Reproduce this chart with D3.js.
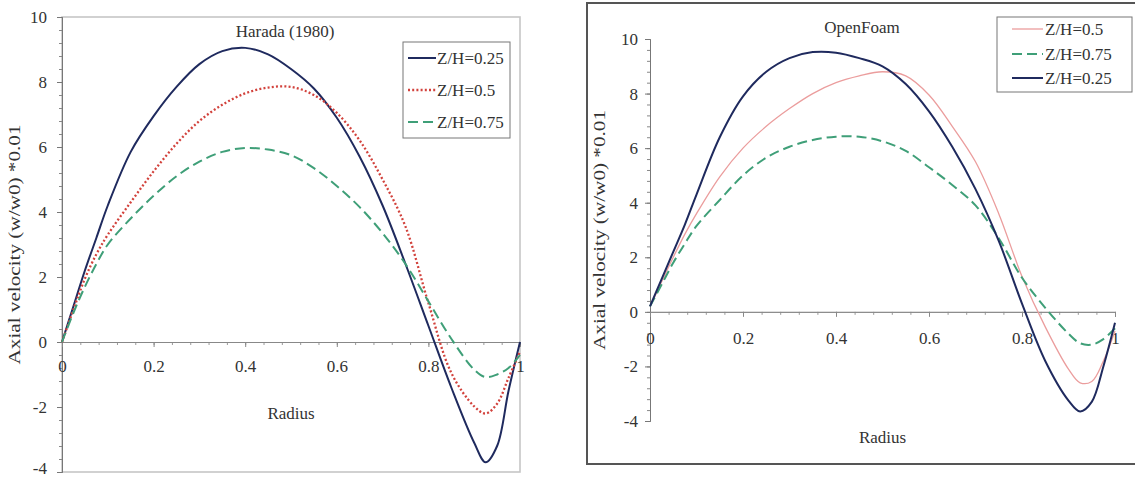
<!DOCTYPE html>
<html>
<head>
<meta charset="utf-8">
<script src="https://cdn.jsdelivr.net/npm/d3@7"></script>
<style>
  body { margin: 0; background: #fff; }
  svg { display: block; }
  svg text { font-family: "Liberation Serif", "Times New Roman", serif; }
</style>
</head>
<body>
<div id="chart"></div>
<script>
// radius positions, shared by both panels
var radius = [0, 0.025, 0.05, 0.075, 0.1, 0.15, 0.2, 0.25, 0.3, 0.35, 0.4, 0.45, 0.5,
  0.55, 0.6, 0.65, 0.7, 0.75, 0.8, 0.85, 0.9, 0.925, 0.95, 0.975, 1];

// Harada (1980) -- axial velocity (w/w0)*0.01
var harada025 = [0, 1.1, 2.2, 3.2, 4.2, 5.85, 6.95, 7.85, 8.55, 8.95, 9.05, 8.85, 8.4,
  7.8, 6.9, 5.7, 4.2, 2.4, 0.5, -1.4, -3.1, -3.7, -3.2, -1.5, 0];
var harada05 = [0, 1.0, 1.95, 2.7, 3.3, 4.3, 5.25, 6.1, 6.8, 7.3, 7.65, 7.83, 7.85,
  7.6, 7.05, 6.2, 5.0, 3.55, 1.2, -0.95, -1.98, -2.2, -1.9, -1.1, -0.3];
var harada075 = [0, 0.9, 1.7, 2.4, 3.0, 3.8, 4.5, 5.1, 5.55, 5.85, 5.97, 5.92, 5.75,
  5.35, 4.8, 4.15, 3.35, 2.4, 1.25, 0.1, -0.85, -1.08, -1.0, -0.8, -0.4];

// OpenFoam
var foam05 = [0.2, 1.1, 2.0, 2.85, 3.6, 4.95, 6.0, 6.8, 7.45, 8.0, 8.4, 8.65, 8.8,
  8.65, 7.95, 6.8, 5.5, 3.6, 1.3, -0.55, -2.1, -2.6, -2.55, -1.8, -0.7];
var foam075 = [0.2, 1.0, 1.8, 2.5, 3.15, 4.1, 5.0, 5.65, 6.05, 6.3, 6.42, 6.42, 6.25,
  5.9, 5.3, 4.65, 3.9, 2.7, 1.25, 0.15, -0.8, -1.15, -1.2, -1.0, -0.6];
var foam025 = [0.2, 1.2, 2.2, 3.2, 4.3, 6.4, 7.9, 8.8, 9.3, 9.52, 9.5, 9.3, 9.0,
  8.35, 7.35, 6.05, 4.5, 2.6, 0.3, -1.8, -3.25, -3.65, -3.3, -2.0, -0.4];

var xTicks = [0, 0.2, 0.4, 0.6, 0.8, 1];
var xTickLabels = ["0", "0.2", "0.4", "0.6", "0.8", "1"];
var yTicks = [-4, -2, 0, 2, 4, 6, 8, 10];
var yTickLabels = ["-4", "-2", "0", "2", "4", "6", "8", "10"];
var yTitle = "Axial velocity  (w/w0) *0.01";
var xTitle = "Radius";

var styles = {
  s025: { color: "#1f2a5e", dash: null, width: 2 },
  s05: { color: "#d2423c", dash: "2,2.2", width: 2.3 },
  s05foam: { color: "#eb9d9d", dash: null, width: 1.3 },
  s075: { color: "#3f9f78", dash: "10,5", width: 2 }
};

var W = 1135, H = 478;
var svg = d3.select("#chart").append("svg").attr("width", W).attr("height", H);

function styleAxis(g, col) {
  g.attr("font-size", 17);
  g.select(".domain").attr("stroke", col);
  g.selectAll(".tick line").attr("stroke", col);
  g.selectAll(".tick text").attr("fill", "#333");
}

function drawPanel(p) {
  var x = d3.scaleLinear().domain([0, 1]).range(p.xr);
  var y = d3.scaleLinear().domain([-4, 10]).range(p.yr);
  var g = svg.append("g");

  if (p.frame) {
    g.append("rect")
      .attr("x", p.xr[0]).attr("y", p.yr[1])
      .attr("width", p.xr[1] - p.xr[0]).attr("height", p.yr[0] - p.yr[1])
      .attr("fill", "none").attr("stroke", "#c6c6c6").attr("stroke-width", 1.6);
  }

  var minorX = d3.range(0, 1.0001, 0.04);
  var minorY = d3.range(-4, 10.0001, 0.4);

  // y axis
  g.append("g").attr("transform", "translate(" + p.xr[0] + ",0)")
    .call(d3.axisLeft(y).tickValues(minorY).tickSize(3).tickFormat(""))
    .call(styleAxis, "#888");
  var ya = g.append("g").attr("transform", "translate(" + p.xr[0] + ",0)")
    .call(d3.axisLeft(y).tickValues(yTicks).tickSize(5).tickPadding(p.yPad)
      .tickFormat(function (d, i) { return yTickLabels[i]; }))
    .call(styleAxis, "#777");
  // keep the lowest label inside the picture
  ya.selectAll(".tick text").filter(function (d) { return y(d) > H - 8; })
    .attr("dy", "0.1em");

  // x axis through zero
  g.append("g").attr("transform", "translate(0," + y(0) + ")")
    .call(d3.axisBottom(x).tickValues(minorX).tickSize(3).tickFormat(""))
    .call(styleAxis, "#999");
  g.append("g").attr("transform", "translate(0," + y(0) + ")")
    .call(d3.axisBottom(x).tickValues(xTicks).tickSize(5).tickPadding(p.xPad)
      .tickFormat(function (d, i) { return xTickLabels[i]; }))
    .call(styleAxis, "#888");

  var line = d3.line()
    .x(function (d) { return x(d[0]); })
    .y(function (d) { return y(d[1]); })
    .curve(d3.curveCatmullRom.alpha(0.5));

  p.series.forEach(function (s) {
    var pts = radius.map(function (r, i) { return [r, s.values[i]]; });
    g.append("path").datum(pts)
      .attr("d", line)
      .attr("fill", "none")
      .attr("stroke", s.style.color)
      .attr("stroke-width", s.style.width)
      .attr("stroke-dasharray", s.style.dash);
  });

  // titles
  g.append("text").attr("x", p.titleX).attr("y", p.titleY)
    .attr("text-anchor", "middle").attr("font-size", 17).attr("fill", "#333")
    .text(p.title);
  g.append("text").attr("x", (p.xr[0] + p.xr[1]) / 2).attr("y", p.xTitleY)
    .attr("text-anchor", "middle").attr("font-size", 17).attr("fill", "#333")
    .text(xTitle);
  g.append("text")
    .attr("transform", "translate(" + p.yTitleX + "," + ((p.yr[0] + p.yr[1]) / 2) + ") rotate(-90)")
    .attr("text-anchor", "middle").attr("font-size", 17).attr("fill", "#333")
    .attr("textLength", 240).attr("lengthAdjust", "spacingAndGlyphs")
    .text(yTitle);

  // legend
  var L = p.legend;
  g.append("rect").attr("x", L.x).attr("y", L.y).attr("width", L.w).attr("height", L.h)
    .attr("fill", "#fff").attr("stroke", "#777").attr("stroke-width", 1);
  p.series.forEach(function (s, i) {
    var cy = L.rows[i];
    g.append("line")
      .attr("x1", L.lx[0]).attr("x2", L.lx[1]).attr("y1", cy).attr("y2", cy)
      .attr("stroke", s.style.color).attr("stroke-width", s.style.width)
      .attr("stroke-dasharray", s.style.dash);
    g.append("text").attr("x", L.tx).attr("y", cy + 6)
      .attr("font-size", 17).attr("fill", "#333").text(s.name);
  });
}

// right panel outer frame
svg.append("rect").attr("x", 587).attr("y", 3).attr("width", 560).attr("height", 461)
  .attr("fill", "none").attr("stroke", "#555").attr("stroke-width", 2);

drawPanel({
  xr: [62, 520], yr: [472, 17], frame: true, yPad: 10, xPad: 13,
  title: "Harada (1980)", titleX: 285, titleY: 37,
  xTitleY: 419, yTitleX: 20,
  series: [
    { name: "Z/H=0.25", values: harada025, style: styles.s025 },
    { name: "Z/H=0.5", values: harada05, style: styles.s05 },
    { name: "Z/H=0.75", values: harada075, style: styles.s075 }
  ],
  legend: { x: 403, y: 42, w: 107, h: 96, rows: [58, 90, 122], lx: [408, 436], tx: 437 }
});

drawPanel({
  xr: [650, 1115], yr: [421, 39], frame: false, yPad: 7, xPad: 15,
  title: "OpenFoam", titleX: 862, titleY: 33,
  xTitleY: 443, yTitleX: 605,
  series: [
    { name: "Z/H=0.5", values: foam05, style: styles.s05foam },
    { name: "Z/H=0.75", values: foam075, style: styles.s075 },
    { name: "Z/H=0.25", values: foam025, style: styles.s025 }
  ],
  legend: { x: 997, y: 17, w: 135, h: 75, rows: [29, 54, 78], lx: [1012, 1043], tx: 1045 }
});
</script>
</body>
</html>
